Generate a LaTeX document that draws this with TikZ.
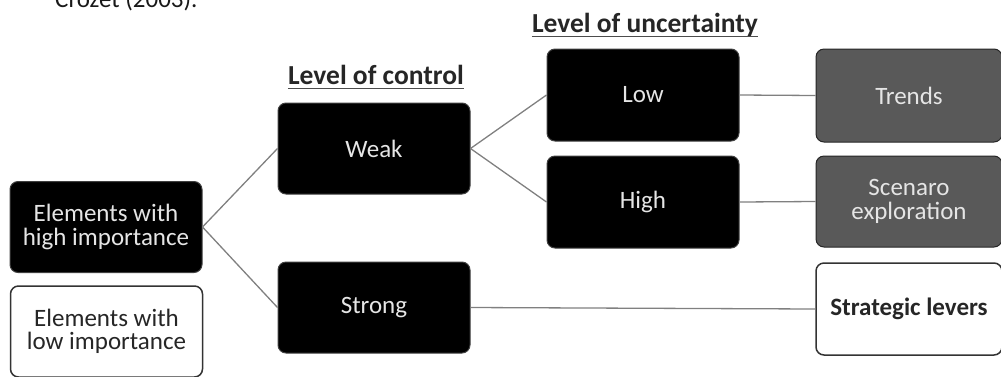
\documentclass[tikz,border=0pt]{standalone}
\usepackage{fontspec}
\setmainfont{Carlito}
\tikzstyle{every node}+=[inner sep=0pt,font=\fontsize{25}{23.5}\selectfont]
\tikzstyle{blk}=[draw=black!75,fill=black,text=white!90!black,rounded corners=8pt,minimum width=192pt,minimum height=91pt,align=center,line width=1pt]
\tikzstyle{gry}=[blk,fill=black!65,draw=black!85,minimum width=186pt]
\tikzstyle{wht}=[blk,fill=white,text=black!85,draw=black!80,line width=1.5pt]
\tikzstyle{hdr}=[font=\fontsize{27.5}{30}\selectfont\bfseries,text=black!85]
\tikzstyle{link}=[draw=black!50,line width=1.3pt]
\tikzstyle{uline}=[draw=black!70,line width=1.6pt]
\usetikzlibrary{positioning}

\begin{document}
\begin{tikzpicture}[x=1pt,y=-1pt]
\path[use as bounding box,clip] (0,0) rectangle (1001,376);

\node[anchor=base west,text=black!90] (src) at (55,7.5) {Crozet (2003).};

\node[hdr,anchor=base] (hctl) at (376,84) {Level of control};
\node[hdr,anchor=base] (hunc) at (645,32) {Level of uncertainty};
\draw[uline] ([yshift=-4.5pt]hctl.base west) -- ([yshift=-4.5pt]hctl.base east);
\draw[uline] ([yshift=-4.5pt]hunc.base west) -- ([yshift=-4.5pt]hunc.base east);

\node[blk] (hi) at (106,227) {Elements with\\high importance};
\node[wht] (lo) at (106.5,331.5) {Elements with\\low importance};

\node[blk] (weak) at (374,148.5) {Weak};
\node[blk] (strong) at (374,307.5) {Strong};

\node[blk,minimum height=92pt] (low) at (643,95) {Low};
\node[blk,minimum height=92pt] (high) at (643,202) {High};

\node[gry,minimum height=93pt] (trends) at (909,95.5) {Trends};
\node[gry] (scen) at (909,201.5) {Scenaro\\exploration};
\node[wht,font=\fontsize{25}{23.5}\selectfont\bfseries,minimum width=186pt,minimum height=92pt] (strat) at (909,309) {Strategic levers};

\draw (hi.east) edge[link] (weak.west);
\draw (hi.east) edge[link] (strong.west);
\draw (weak.east) edge[link] (low.west);
\draw (weak.east) edge[link] (high.west);
\draw (low.east) edge[link] (trends.west);
\draw (high.east) edge[link] (scen.west);
\draw (strong.east) edge[link] (strat.west);
\end{tikzpicture}
\end{document}
